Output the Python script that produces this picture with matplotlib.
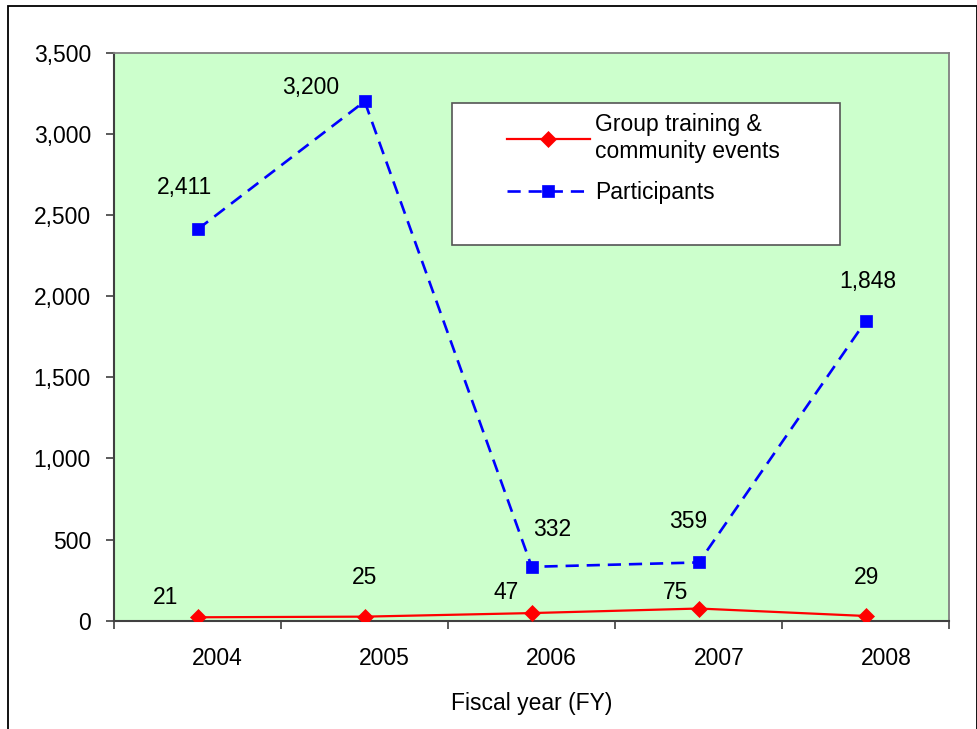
import matplotlib
matplotlib.use("Agg")
import matplotlib.pyplot as plt
from matplotlib.patches import Rectangle
from matplotlib.transforms import ScaledTranslation

plt.rcParams['font.family'] = ['Liberation Sans', 'DejaVu Sans']

years = ["2004", "2005", "2006", "2007", "2008"]
events = [21, 25, 47, 75, 29]
participants = [2411, 3200, 332, 359, 1848]
event_labels = ["21", "25", "47", "75", "29"]
participant_labels = ["2,411", "3,200", "332", "359", "1,848"]
yticks = [0, 500, 1000, 1500, 2000, 2500, 3000, 3500]
ytick_labels = ["0", "500", "1,000", "1,500", "2,000", "2,500", "3,000", "3,500"]

# label offsets in pixels (layout only)
event_off = [(-32, 20), (0, 39), (-26, 21), (-23, 16), (1, 38)]
part_off = [(-13, 42), (-54, 14), (20, 37), (-11, 41), (2, 39)]

FS = 16.5
W, H = 978, 729
fig = plt.figure(figsize=(W / 100, H / 100), dpi=100)
ax_l, ax_r, ax_t, ax_b = 114, 949.5, 52.7, 620.7
ax = fig.add_axes([ax_l / W, 1 - ax_b / H, (ax_r - ax_l) / W, (ax_b - ax_t) / H])
ax.set_facecolor('#CCFFCC')

x = list(range(len(years)))
ax.plot(x, events, color='#FF0000', lw=1.6, marker='D', ms=8,
        markeredgewidth=0.5, label="Group training &\ncommunity events", zorder=3)
ax.plot(x, participants, color='#0000FF', lw=1.9, dashes=(5, 3), marker='s', ms=8.5,
        markeredgewidth=0.5, label="Participants", zorder=3)

for xi, v, t, o in zip(x, events, event_labels, event_off):
    ax.annotate(t, (xi, v), xytext=o, textcoords='offset pixels',
                ha='center', va='center', fontsize=FS, zorder=6)
for xi, v, t, o in zip(x, participants, participant_labels, part_off):
    ax.annotate(t, (xi, v), xytext=o, textcoords='offset pixels',
                ha='center', va='center', fontsize=FS, zorder=6)

ax.set_xlim(-0.5, len(years) - 0.5)
ax.set_ylim(0, 3500)
ax.set_yticks(yticks)
ax.set_yticklabels(ytick_labels, fontsize=FS)
ax.set_xticks(x)
ax.set_xticklabels(years, fontsize=FS)
ax.set_xticks([i - 0.5 for i in range(len(years) + 1)], minor=True)
ax.tick_params(axis='x', which='major', length=0, pad=19)
ax.tick_params(axis='x', which='minor', length=5.8, width=1.2, color='#404040', direction='out')
ax.tick_params(axis='y', which='major', length=5.8, width=1.2, color='#404040', pad=10.8)
off = ScaledTranslation(20 / 100, 0, fig.dpi_scale_trans)
for lab in ax.get_xticklabels():
    lab.set_transform(lab.get_transform() + off)

ax.set_xlabel("Fiscal year (FY)", fontsize=FS, labelpad=16)

for s in ['left', 'bottom']:
    ax.spines[s].set_color('#404040')
    ax.spines[s].set_linewidth(1.5)
for s in ['top', 'right']:
    ax.spines[s].set_color('#808080')
    ax.spines[s].set_linewidth(1.3)

# legend frame
lx0, lx1, ly0, ly1 = 452, 840, 102.7, 245
ax.add_patch(Rectangle(((lx0 - ax_l) / (ax_r - ax_l), (ax_b - ly1) / (ax_b - ax_t)),
                       (lx1 - lx0) / (ax_r - ax_l), (ly1 - ly0) / (ax_b - ax_t),
                       transform=ax.transAxes, facecolor='white', edgecolor='#555555',
                       lw=1.2, zorder=4))
leg = ax.legend(loc='upper left',
                bbox_to_anchor=((507 - ax_l) / (ax_r - ax_l), (ax_b - 113) / (ax_b - ax_t)),
                frameon=False, fontsize=FS, handlelength=3.6, handletextpad=0.25,
                borderpad=0, borderaxespad=0, labelspacing=0.8)
leg.set_zorder(5)

# outer border
fig.patches.append(Rectangle((8 / W, -0.01), (977 - 8) / W, (729 - 6) / H + 0.01,
                             transform=fig.transFigure, fill=False, edgecolor='black',
                             lw=1.3, zorder=0))

fig.savefig("out.png", dpi=100)
